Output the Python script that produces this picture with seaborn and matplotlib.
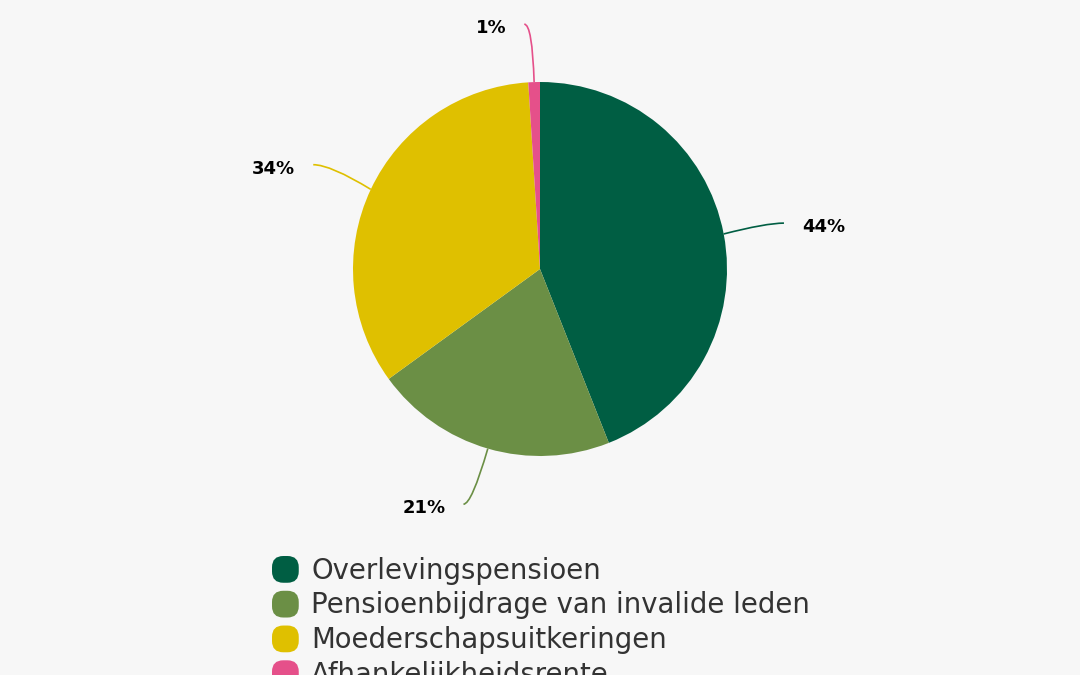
import numpy as np
import matplotlib
matplotlib.use("Agg")
import matplotlib.pyplot as plt
from matplotlib.patches import Patch, PathPatch, FancyBboxPatch
from matplotlib.path import Path
from matplotlib.legend_handler import HandlerPatch
import seaborn as sns

# Data
categories = ['Overlevingspensioen', 'Pensioenbijdrage van invalide leden',
              'Moederschapsuitkeringen', 'Afhankelijkheidsrente']
shares = [44, 21, 34, 1]
colors = ['#005e43', '#6b8f45', '#dfc000', '#e5508a']

bg = '#f7f7f7'
sns.set_theme(style='white', rc={'figure.facecolor': bg, 'axes.facecolor': bg})
plt.rcParams['font.family'] = ['DejaVu Sans']

W, H = 1080, 675
fig = plt.figure(figsize=(W / 100, H / 100), dpi=100)
ax = fig.add_axes([0, 0, 1, 1])

cx, cy, r = 540, H - 269, 187
wedges, _ = ax.pie(shares, colors=colors, startangle=90, counterclock=False,
                   center=(cx, cy), radius=r, wedgeprops={'linewidth': 0})
ax.set_xlim(0, W)
ax.set_ylim(0, H)
ax.set_aspect('equal')
ax.axis('off')

# Percentage labels with soft connectors (end horizontally at the label)
for w, val, col in zip(wedges, shares, colors):
    mid = np.deg2rad((w.theta1 + w.theta2) / 2)
    dx, dy = np.cos(mid), np.sin(mid)
    right = dx >= 0
    side = 1 if right else -1
    sx, sy = cx + r * dx, cy + r * dy
    ex = cx + 1.32 * r * dx + side * 8 * abs(dy)
    ey = cy + 1.31 * r * dy
    # control point: on the radial line at the label height, clamped
    t = (ey - sy) / dy if abs(dy) > 1e-6 else 0
    ctx = sx + t * dx
    lo, hi = sorted([sx, sx + 0.7 * (ex - sx)])
    ctx = min(max(ctx, lo), hi)
    path = Path([(sx, sy), (ctx, ey), (ex, ey)],
                [Path.MOVETO, Path.CURVE3, Path.CURVE3])
    ax.add_patch(PathPatch(path, facecolor='none', edgecolor=col, lw=1.2))
    tx = ex + side * 18
    ax.text(tx, ey - 4, f'{val}%', ha='left' if right else 'right',
            va='center', fontsize=13, fontweight='bold', color='black')


class RoundSquare(HandlerPatch):
    def create_artists(self, legend, orig_handle, xdescent, ydescent,
                       width, height, fontsize, trans):
        s = min(width, height)
        p = FancyBboxPatch((-xdescent, -ydescent + (height - s) / 2), s, s,
                           boxstyle=f'round,pad=0,rounding_size={s * 0.42}',
                           facecolor=orig_handle.get_facecolor(),
                           edgecolor='none', transform=trans)
        return [p]


handles = [Patch(facecolor=c) for c in colors]
fig.legend(handles, categories, loc='upper left',
           bbox_to_anchor=(272 / W, 1 - 556 / H), frameon=False,
           fontsize=19.8, labelcolor='#333333', handlelength=1.12,
           handleheight=1.12, handletextpad=0.3, labelspacing=0.22,
           borderpad=0, borderaxespad=0,
           handler_map={Patch: RoundSquare()})

fig.savefig('out.png', dpi=100, facecolor=bg)
